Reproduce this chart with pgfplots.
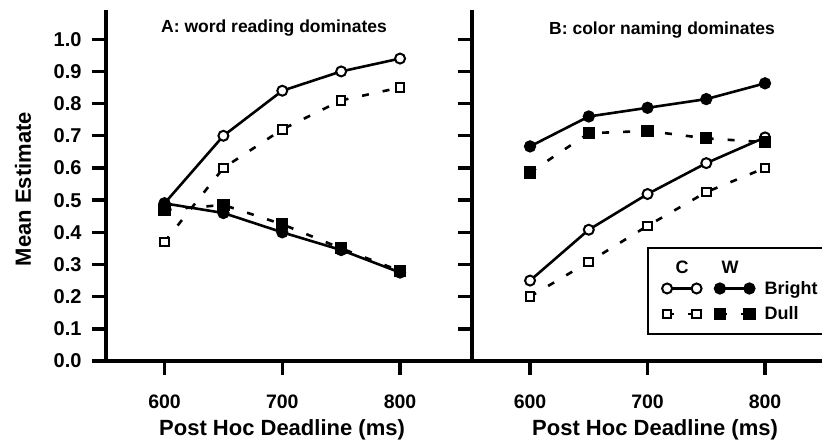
\documentclass[border=0pt]{standalone}
\usepackage{fontspec}
\setmainfont{Liberation Sans}
\usepackage{pgfplots}
\pgfplotsset{compat=1.18}
\pgfplotstableread{
x    cb    cd    wb    wd
600  0.49  0.37  0.49  0.47
650  0.70  0.60  0.46  0.485
700  0.84  0.72  0.40  0.425
750  0.90  0.81  0.345 0.35
800  0.94  0.85  0.275 0.28
}\panelA
\pgfplotstableread{
x    cb    cd    wb    wd
600  0.25  0.20  0.667 0.586
650  0.408 0.308 0.76  0.708
700  0.519 0.42  0.787 0.715
750  0.615 0.525 0.814 0.692
800  0.695 0.60  0.863 0.68
}\panelB
\begin{document}
\begin{tikzpicture}[x=1pt,y=1pt,font=\bfseries]
\useasboundingbox (0pt,-440pt) rectangle (822pt,0pt);
\pgfplotsset{
  base/.style={
    scale only axis,
    axis x line=bottom, axis y line=left,
    axis line style={-, line width=3.4pt},
    ymin=0, ymax=1.0909, height=351pt,
    ytick={0,0.1,0.2,0.3,0.4,0.5,0.6,0.7,0.8,0.9,1.0},
    xtick={600,700,800},
    tick align=outside,
    major tick length=14pt,
    every tick/.style={black, line width=3.4pt},
    /pgf/number format/assume math mode=true,
    yticklabel style={font=\fontsize{20}{20}\selectfont\bfseries, /pgf/number format/fixed, /pgf/number format/fixed zerofill, /pgf/number format/precision=1, xshift=-7pt},
    xticklabel style={font=\fontsize{19.5}{19.5}\selectfont\bfseries, /pgf/number format/1000 sep={}, yshift=-16pt},
    xlabel={Post Hoc Deadline (ms)},
    xlabel style={font=\fontsize{22}{22}\selectfont\bfseries, anchor=center},
    clip=false,
    legend image code/.code={\draw[mark repeat=1,mark phase=1,#1] plot coordinates {(0pt,0pt) (29.5pt,0pt)};},
  },
  cb/.style={black, line width=2.6pt, mark=*, mark size=5pt, mark options={solid, fill=white, line width=2pt}},
  cd/.style={black, line width=2.6pt, dash pattern=on 7pt off 14pt, mark=square*, mark size=4.3pt, mark options={solid, fill=white, line width=2pt}},
  wb/.style={black, line width=2.6pt, mark=*, mark size=4.8pt, mark options={solid, fill=black}},
  wd/.style={black, line width=2.6pt, dash pattern=on 7pt off 14pt, mark=square*, mark size=4.8pt, mark options={solid, fill=black}},
}
% Panel A
\begin{axis}[base, at={(106pt,-361pt)}, anchor=south west, width=366pt,
  xmin=550.3, xmax=861.1,
  xlabel style={at={(axis description cs:0.481,-0.196)}},
  ylabel={Mean Estimate},
  ylabel style={font=\fontsize{22}{22}\selectfont\bfseries, at={(axis description cs:-0.227,0.49)}, anchor=center},
]
\addplot[cb] table[x=x,y=cb] {\panelA};
\addplot[wb] table[x=x,y=wb] {\panelA};
\addplot[cd] table[x=x,y=cd] {\panelA};
\addplot[wd] table[x=x,y=wd] {\panelA};
\end{axis}
% Panel B
\begin{axis}[base, at={(472pt,-361pt)}, anchor=south west, width=350pt,
  xmin=550.6, xmax=848.5, yticklabels={},
  xlabel style={at={(axis description cs:0.523,-0.196)}},
  legend columns=2, legend cell align=left,
  legend style={draw=none, fill=none, at={(axis description cs:0.534,0.2336)}, anchor=north west,
    font=\fontsize{18}{18}\selectfont\bfseries, row sep=11pt, column sep=0pt,
    nodes={inner sep=0pt},
    /tikz/every odd column/.append style={column sep=10.5pt},
    /tikz/every even column/.append style={column sep=2pt}},
]
\addplot[cb] table[x=x,y=cb] {\panelB};
\addlegendentry{}
\addplot[wb] table[x=x,y=wb] {\panelB};
\addlegendentry{Bright}
\addplot[cd] table[x=x,y=cd] {\panelB};
\addlegendentry{}
\addplot[wd] table[x=x,y=wd] {\panelB};
\addlegendentry{Dull}
\end{axis}
\draw[line width=2.8pt] (648pt,-248pt) rectangle (840pt,-334pt);
\node[font=\fontsize{18}{18}\selectfont\bfseries] at (682pt,-267pt) {C};
\node[font=\fontsize{18}{18}\selectfont\bfseries] at (730pt,-267pt) {W};
\node[font=\fontsize{17.5}{17.5}\selectfont\bfseries] at (274pt,-28pt) {A: word reading dominates};
\node[font=\fontsize{17.5}{17.5}\selectfont\bfseries] at (662pt,-30pt) {B: color naming dominates};
\end{tikzpicture}
\end{document}
